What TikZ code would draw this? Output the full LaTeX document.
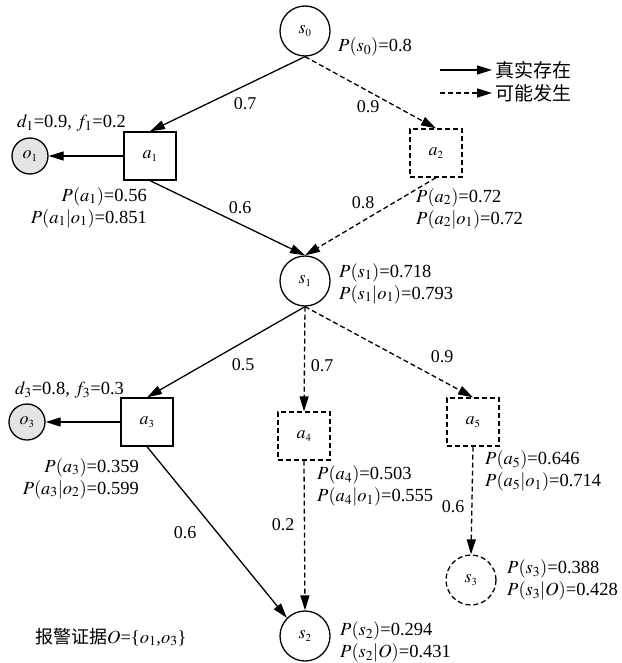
\documentclass[tikz,border=0pt]{standalone}
\usepackage{mathptmx}
\usepackage{fontspec}
\setmainfont{Liberation Serif}
\newfontfamily\cjk{Noto Sans CJK SC}
\usepackage{tikz}
\usetikzlibrary{positioning, shapes.geometric, arrows.meta, calc}
\definecolor{linecol}{HTML}{000000}
\definecolor{alarmfill}{HTML}{E4E4E4}
\tikzset{
  % circle = state
  state/.style={circle, draw=linecol, line width=1.3pt, inner sep=0pt,
                minimum size=50pt, font=\fontsize{18}{18}\selectfont},
  % dashed circle = state that may occur
  state maybe/.style={state, dash pattern=on 5pt off 3pt},
  % square = attack action
  act/.style={rectangle, draw=linecol, line width=1.3pt, inner sep=0pt,
              minimum width=52pt, minimum height=48pt,
              font=\fontsize{18}{18}\selectfont},
  act maybe/.style={act, dash pattern=on 5pt off 3pt},
  % grey circle = alarm evidence
  alarm/.style={circle, draw=linecol, fill=alarmfill, line width=1.3pt,
                inner sep=0pt, minimum size=36pt,
                font=\fontsize{18}{18}\selectfont},
  % connectors
  real/.style={line width=1.3pt, -{Triangle[length=15pt,width=9pt]}},
  maybe/.style={real, dash pattern=on 5pt off 3pt},
  % texts
  prob/.style={inner sep=0pt, font=\fontsize{18.5}{22}\selectfont},
  weight/.style={inner sep=0pt, font=\fontsize{18}{18}\selectfont},
}
\begin{document}
\begin{tikzpicture}[x=1pt, y=-1pt]
  \useasboundingbox (0,0) rectangle (621,663);
  % states and actions
  \node[state]       (s0) at (305, 31)  {$s_{\scriptscriptstyle 0}$};
  \node[act]         (a1) at (150,156)  {$a_{\scriptscriptstyle 1}$};
  \node[act maybe]   (a2) at (436,153)  {$a_{\scriptscriptstyle 2}$};
  \node[state]       (s1) at (305,281)  {$s_{\scriptscriptstyle 1}$};
  \node[act]         (a3) at (147,422)  {$a_{\scriptscriptstyle 3}$};
  \node[act maybe]   (a4) at (304,436)  {$a_{\scriptscriptstyle 4}$};
  \node[act maybe]   (a5) at (473,422)  {$a_{\scriptscriptstyle 5}$};
  \node[state]       (s2) at (305,636)  {$s_{\scriptscriptstyle 2}$};
  \node[state maybe] (s3) at (471,580)  {$s_{\scriptscriptstyle 3}$};
  \node[alarm]       (o1) at (30,156)   {$o_{\scriptscriptstyle 1}$};
  \node[alarm]       (o3) at (27,422)   {$o_{\scriptscriptstyle 3}$};

  % connectors
  \draw[real]  (s0.south) -- (a1.north);
  \draw[maybe] (s0.south) -- (a2.north);
  \draw[real]  (a1.south) -- (s1.north);
  \draw[maybe] (a2.south) -- (s1.north);
  \draw[real]  (a1.west)  -- (o1.east);
  \draw[real]  (s1.south) -- (a3.north);
  \draw[maybe] (s1.south) -- (a4.north);
  \draw[maybe] (s1.south) -- (a5.north);
  \draw[real]  (a3.west)  -- (o3.east);
  \draw[real]  (a3.south) -- (s2.north west);
  \draw[maybe] (a4.south) -- (s2.north);
  \draw[maybe] (a5.south) -- (s3.north);

  % weights
  \node[weight] (w01) at (245,104) {0.7};
  \node[weight] (w02) at (368,107) {0.9};
  \node[weight] (w11) at (240,208) {0.6};
  \node[weight] (w21) at (363,203) {0.8};
  \node[weight] (w13) at (243,365) {0.5};
  \node[weight] (w14) at (322,366) {0.7};
  \node[weight] (w15) at (442,357) {0.9};
  \node[weight] (w32) at (185,533) {0.6};
  \node[weight] (w42) at (283,525) {0.2};
  \node[weight] (w53) at (453,507) {0.6};

  % probabilities
  \node[prob, anchor=west] (ps0) at (338,47) {$P(s_0)$=0.8};
  \node[prob, anchor=east, align=right] (pa1) at (147,207.5)
    {$P(a_1)$=0.56\\$P(a_1|o_1)$=0.851};
  \node[prob, anchor=west, align=left] (pa2) at (416,208.5)
    {$P(a_2)$=0.72\\$P(a_2|o_1)$=0.72};
  \node[prob, anchor=west, align=left] (ps1) at (339,283.5)
    {$P(s_1)$=0.718\\$P(s_1|o_1)$=0.793};
  \node[prob, anchor=east, align=right] (pa3) at (139,478.5)
    {$P(a_3)$=0.359\\$P(a_3|o_2)$=0.599};
  \node[prob, anchor=west, align=left] (pa4) at (317,486)
    {$P(a_4)$=0.503\\$P(a_4|o_1)$=0.555};
  \node[prob, anchor=west, align=left] (pa5) at (485,471)
    {$P(a_5)$=0.646\\$P(a_5|o_1)$=0.714};
  \node[prob, anchor=west, align=left] (ps3) at (507,580)
    {$P(s_3)$=0.388\\$P(s_3|O)$=0.428};
  \node[prob, anchor=west, align=left] (ps2) at (340,642)
    {$P(s_2)$=0.294\\$P(s_2|O)$=0.431};
  \node[prob, anchor=west] (df1) at (17,123) {$d_1$=0.9, $f_1$=0.2};
  \node[prob, anchor=west] (df3) at (15,390) {$d_3$=0.8, $f_3$=0.3};
  \node[prob, anchor=west] (evid) at (35,637)
    {{\cjk\fontsize{18}{18}\selectfont 报警证据}$O$=\{$o_1$,$o_3$\}};

  % legend
  \coordinate (leg1a) at (440,70);
  \coordinate (leg1b) at (492,70);
  \coordinate (leg2a) at (440,93);
  \coordinate (leg2b) at (492,93);
  \draw[real]  (leg1a) -- (leg1b);
  \draw[maybe] (leg2a) -- (leg2b);
  \node[anchor=west, inner sep=0pt, font=\cjk\fontsize{19}{19}\selectfont]
    (legreal) at (495,70) {真实存在};
  \node[anchor=west, inner sep=0pt, font=\cjk\fontsize{19}{19}\selectfont]
    (legmaybe) at (495,93) {可能发生};
\end{tikzpicture}
\end{document}
